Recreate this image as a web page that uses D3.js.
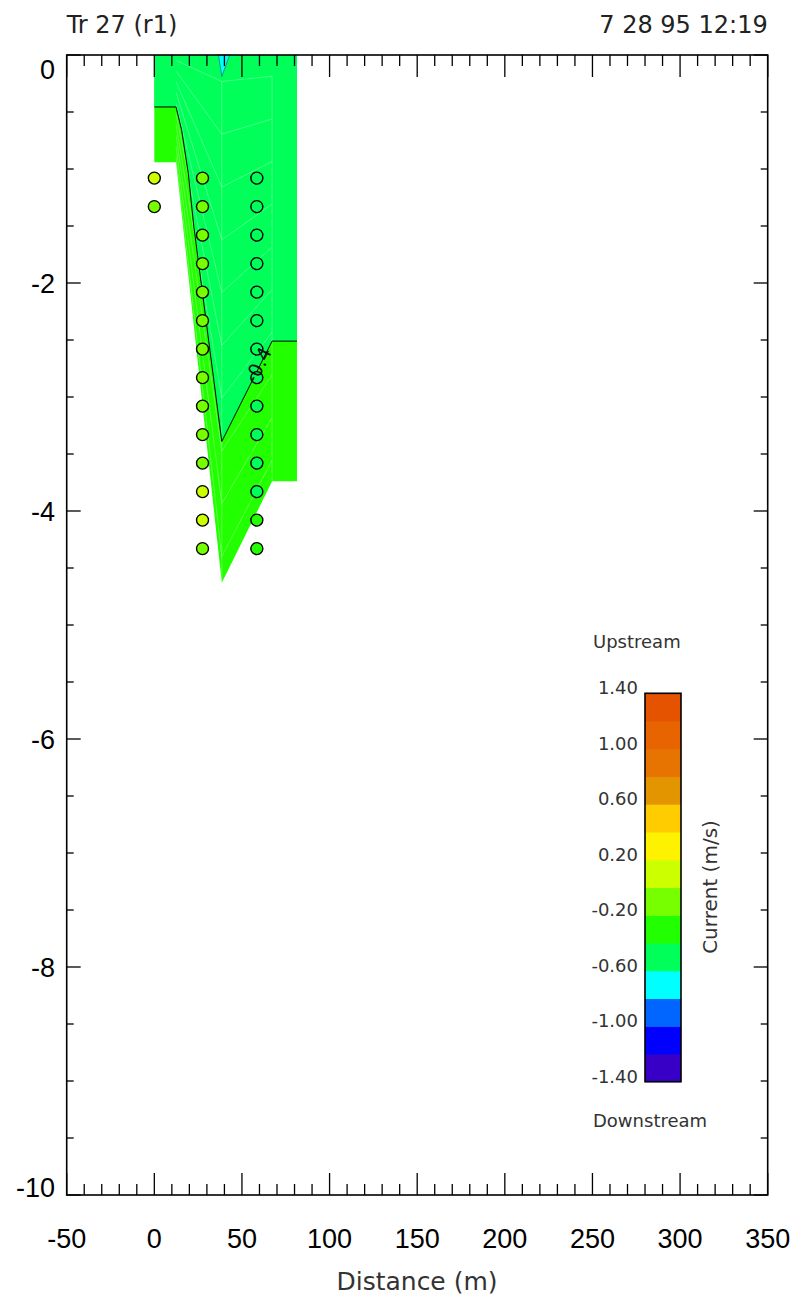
<!DOCTYPE html>
<html><head><meta charset="utf-8">
<script src="https://cdn.jsdelivr.net/npm/d3@7"></script>
<style>body{margin:0;background:#fff}svg{display:block}</style>
</head><body><svg id="c" width="799" height="1301"></svg>
<script>
// ---------------- data ----------------
const titleLeft = "Tr 27 (r1)";
const titleRight = "7 28 95 12:19";
const xLabel = "Distance (m)";
const xTicks = [-50, 0, 50, 100, 150, 200, 250, 300, 350];
const yTicks = [0, -2, -4, -6, -8, -10];
const levels = [-1.4, -1.2, -1.0, -0.8, -0.6, -0.4, -0.2, 0.0, 0.2, 0.4, 0.6, 0.8, 1.0, 1.2, 1.4];
const levelColors = ["#3800c6", "#0000ff", "#0066ff", "#00ffff", "#00ff58", "#22ff00", "#77ff00",
                     "#ccff00", "#fff200", "#ffcc00", "#e39500", "#e77400", "#e86400", "#e65300"];
const cbTickValues = [1.4, 1.0, 0.6, 0.2, -0.2, -0.6, -1.0, -1.4];
const cbTickLabels = ["1.40", "1.00", "0.60", "0.20", "-0.20", "-0.60", "-1.00", "-1.40"];
// measurement stations (distance, m) and depths (m)
const stationX = [0, 27.5, 58.5];
const depthsSt0 = [-1.08, -1.33];
const depthsSt = [-1.08, -1.33, -1.58, -1.83, -2.08, -2.33, -2.58, -2.83, -3.08, -3.33, -3.58, -3.83, -4.08, -4.33];
const valuesSt0 = [0.08, -0.08];
const valuesSt1 = [-0.1, -0.1, -0.12, -0.1, -0.1, -0.12, -0.1, -0.1, -0.12, -0.1, -0.15, 0.05, 0.04, -0.12];
const valuesSt2 = [-0.5, -0.5, -0.5, -0.5, -0.5, -0.5, -0.5, -0.48, -0.47, -0.46, -0.45, -0.44, -0.35, -0.3];
// section outline (bed profile)
const bedX = [0, 0, 12.4, 38.5, 67.2, 81.4, 81.4];
const bedY = [0, -0.94, -0.94, -4.63, -3.74, -3.74, 0];
// -0.4 m/s contour
const c04X = [0, 12.4, 15.6, 19.4, 22.5, 38.5, 67.2, 81.4];
const c04Y = [-0.456, -0.456, -0.66, -1.04, -1.5, -3.39, -2.51, -2.51];
// -0.6 m/s pocket at surface
const c06X = [36.6, 38.5, 43.0];
const c06Y = [0, -0.19, 0];
// triangulation mesh columns
const meshX = [12.4, 38.5, 67.2];
const meshBottom = [0.94, 4.63, 3.74];
const meshSigma = [0.05, 0.15, 0.25, 0.35, 0.45, 0.55, 0.65, 0.75, 0.85, 0.95];

// ---------------- layout ----------------
const L = 66.7, R = 767.7, T = 55, B = 1195;
const svg = d3.select("#c");
const x = d3.scaleLinear().domain([-50, 350]).range([L, R]);
const y = d3.scaleLinear().domain([0, -10]).range([T, B]);
const color = d3.scaleThreshold().domain(levels.slice(1, -1)).range(levelColors);

const line = d3.line().x(d => x(d[0])).y(d => y(d[1]));
const zip = (a, b) => a.map((v, i) => [v, b[i]]);

const g = svg.append("g");
// whole section: -0.4..-0.2 band
g.append("path").attr("d", line(zip(bedX, bedY)) + "Z").attr("fill", color(-0.3));
// -0.6..-0.4 region above the -0.4 contour
const upper = [[0, 0], [81.4, 0], [81.4, -2.51]].concat(zip(c04X, c04Y).reverse());
g.append("path").attr("d", line(upper) + "Z").attr("fill", color(-0.5));
// surface pocket
g.append("path").attr("d", line(zip(c06X, c06Y)) + "Z").attr("fill", color(-0.7))
  .attr("stroke", "#1a6a6a").attr("stroke-width", 0.7);

// faint mesh
const mesh = g.append("g").attr("stroke", "rgba(255,255,255,0.35)").attr("stroke-width", 0.8).attr("fill", "none");
meshSigma.forEach(s => {
  const pts = meshX.map((mx, i) => [mx, -s * meshBottom[i]]);
  mesh.append("path").attr("d", line(pts));
});
[1, 2].forEach(i => {
  mesh.append("path").attr("d", line([[meshX[i], -meshSigma[0] * meshBottom[i]], [meshX[i], -meshBottom[i]]]));
});

// contour line
g.append("path").attr("d", line(zip(c04X, c04Y))).attr("fill", "none").attr("stroke", "#000").attr("stroke-width", 1);

// measurement points
const pts = []
  .concat(depthsSt0.map((d, i) => ({x: stationX[0], y: d, v: valuesSt0[i]})))
  .concat(depthsSt.map((d, i) => ({x: stationX[1], y: d, v: valuesSt1[i]})))
  .concat(depthsSt.map((d, i) => ({x: stationX[2], y: d, v: valuesSt2[i]})));
g.selectAll("circle.pt").data(pts).join("circle").attr("class", "pt")
  .attr("cx", d => x(d.x)).attr("cy", d => y(d.y)).attr("r", 6)
  .attr("fill", d => color(d.v)).attr("stroke", "#000").attr("stroke-width", 1.4);

// contour label
{
  const p = [59.3, -2.72];
  const ang = Math.atan2(y(c04Y[6]) - y(c04Y[5]), x(c04X[6]) - x(c04X[5])) * 180 / Math.PI;
  g.append("text").attr("transform", `translate(${x(p[0])},${y(p[1])}) rotate(${ang})`)
    .attr("text-anchor", "middle").attr("dy", "0.35em")
    .attr("font-family", "DejaVu Sans, sans-serif").attr("font-size", 19).attr("fill", "#111")
    .text("-0.4");
}

// ---------------- axes ----------------
const ax = svg.append("g").attr("stroke", "#000").attr("stroke-width", 1.3);
const xMinor = d3.range(-50, 351, 10);
const yMinor = d3.range(0, -10.01, -0.5);
xMinor.forEach(v => {
  const len = xTicks.includes(v) ? 22 : 11;
  ax.append("line").attr("x1", x(v)).attr("x2", x(v)).attr("y1", B).attr("y2", B - len);
  ax.append("line").attr("x1", x(v)).attr("x2", x(v)).attr("y1", T).attr("y2", T + len);
});
yMinor.forEach(v => {
  const major = yTicks.some(t => Math.abs(t - v) < 1e-6);
  const len = major ? 14 : 7;
  ax.append("line").attr("x1", L).attr("x2", L + len).attr("y1", y(v)).attr("y2", y(v));
  ax.append("line").attr("x1", R).attr("x2", R - len).attr("y1", y(v)).attr("y2", y(v));
});
svg.append("rect").attr("x", L).attr("y", T).attr("width", R - L).attr("height", B - T)
  .attr("fill", "none").attr("stroke", "#000").attr("stroke-width", 1.6);

const tickFont = "Liberation Sans, Arial, Helvetica, sans-serif";
svg.append("g").selectAll("text").data(xTicks).join("text")
  .attr("x", d => x(d)).attr("y", 1248).attr("text-anchor", "middle")
  .attr("font-family", tickFont).attr("font-size", 27).attr("fill", "#000").text(d => d);
svg.append("g").selectAll("text").data(yTicks).join("text")
  .attr("x", 55).attr("y", d => Math.min(Math.max(y(d), T + 14), B - 8) + 9.5).attr("text-anchor", "end")
  .attr("font-family", tickFont).attr("font-size", 27).attr("fill", "#000").text(d => d);

const labFont = "DejaVu Sans, sans-serif";
svg.append("text").attr("x", 417).attr("y", 1290).attr("text-anchor", "middle")
  .attr("font-family", labFont).attr("font-size", 25).attr("fill", "#333").text(xLabel);
svg.append("text").attr("x", L).attr("y", 33)
  .attr("font-family", labFont).attr("font-size", 24).attr("fill", "#222").text(titleLeft);
svg.append("text").attr("x", R).attr("y", 33).attr("text-anchor", "end")
  .attr("font-family", labFont).attr("font-size", 24).attr("fill", "#222").text(titleRight);

// ---------------- colour bar ----------------
const cbL = 645, cbR = 681, cbT = 693.3, cbB = 1081.7;
const cy = d3.scaleLinear().domain([-1.4, 1.4]).range([cbB, cbT]);
const bands = levelColors.map((c, i) => ({lo: levels[i], hi: levels[i + 1], c}));
svg.append("g").selectAll("rect").data(bands).join("rect")
  .attr("x", cbL).attr("width", cbR - cbL)
  .attr("y", d => cy(d.hi)).attr("height", d => cy(d.lo) - cy(d.hi) + 0.5)
  .attr("fill", d => d.c);
svg.append("rect").attr("x", cbL).attr("y", cbT).attr("width", cbR - cbL).attr("height", cbB - cbT)
  .attr("fill", "none").attr("stroke", "#000").attr("stroke-width", 1.6);
svg.append("g").selectAll("text").data(cbTickValues).join("text")
  .attr("x", 638).attr("y", d => cy(d) + 1).attr("text-anchor", "end")
  .attr("font-family", labFont).attr("font-size", 18).attr("fill", "#333")
  .text((d, i) => cbTickLabels[i]);
svg.append("text").attr("x", 593).attr("y", 648).attr("font-family", labFont).attr("font-size", 18)
  .attr("fill", "#333").text("Upstream");
svg.append("text").attr("x", 593).attr("y", 1127).attr("font-family", labFont).attr("font-size", 18)
  .attr("fill", "#333").text("Downstream");
svg.append("text").attr("transform", "translate(717,887) rotate(-90)").attr("text-anchor", "middle")
  .attr("font-family", labFont).attr("font-size", 20).attr("fill", "#333").text("Current (m/s)");
</script></body></html>
